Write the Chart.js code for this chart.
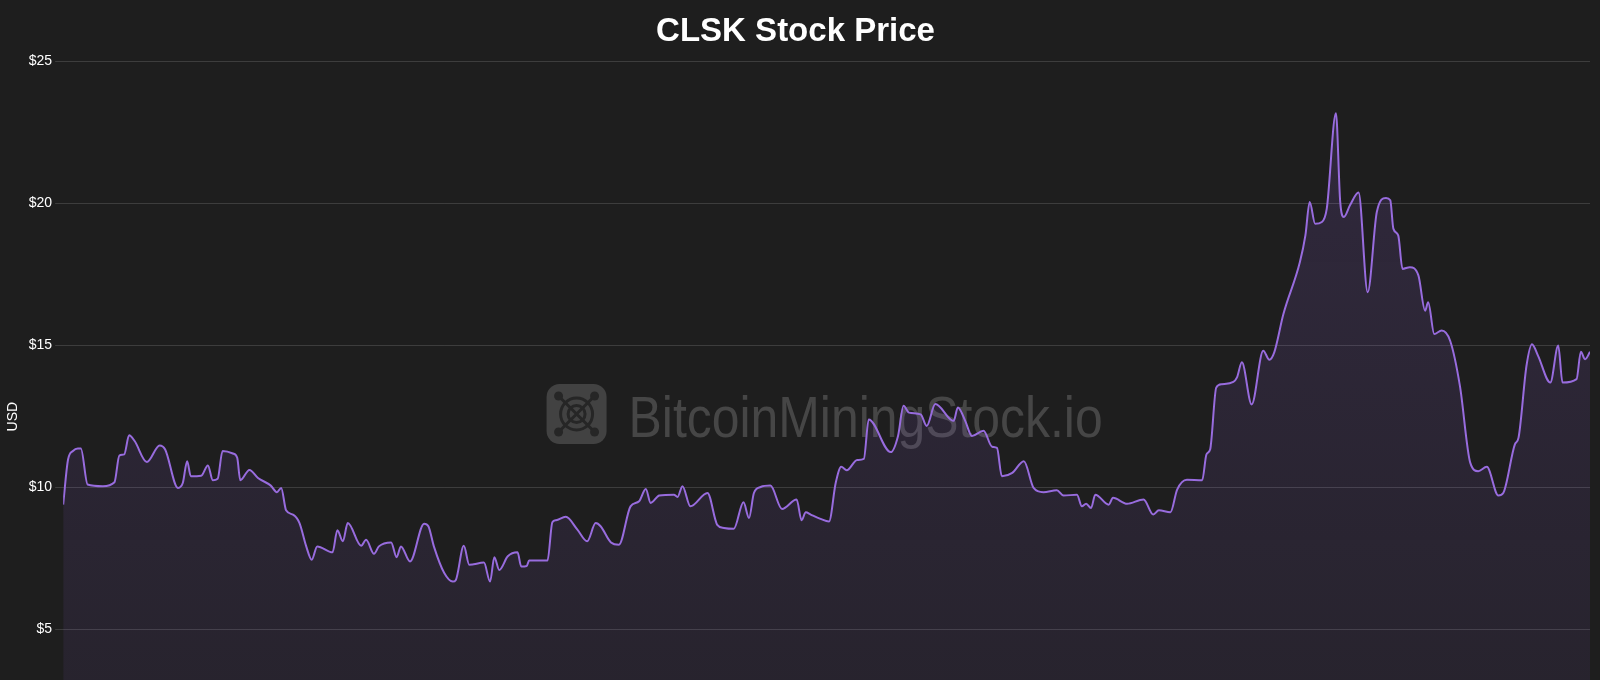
<!DOCTYPE html>
<html>
<head>
<meta charset="utf-8">
<script src="https://cdn.jsdelivr.net/npm/chart.js@4.4.1/dist/chart.umd.min.js"></script>
<style>
  html, body { margin: 0; padding: 0; background: #1e1e1e; overflow: hidden; }
  #wrap { position: absolute; left: 0; top: 0; width: 1600px; height: 783px; }
</style>
</head>
<body>
<div id="wrap"><canvas id="price-chart"></canvas></div>
<script>
// trading day index (one year) and closing price in USD
const days = [0, 0.8, 1.6, 2.4, 2.9, 4.0, 6.5, 8.4, 9.2, 10.0, 10.8, 11.7, 13.7, 15.8, 16.7, 18.8, 19.6, 20.3, 20.9, 22.6,
  23.7, 24.5, 25.3, 26.1, 27.8, 28.5, 29.0, 30.5, 31.9, 34.0, 35.0, 35.7, 36.5, 37.7, 38.7, 39.8, 40.7, 41.6, 44.1, 44.9,
  45.8, 46.6, 48.8, 49.6, 50.9, 51.7, 53.7, 54.6, 55.3, 56.8, 59.1, 59.8, 60.7, 62.4, 63.8, 64.3, 65.6, 66.5, 68.9, 69.9,
  70.6, 71.4, 72.8, 74.4, 75.0, 75.9, 76.3, 79.3, 80.1, 80.7, 82.3, 84.2, 85.8, 87.2, 88.0, 89.7, 91.0, 92.9, 94.3, 95.4,
  96.2, 97.6, 100.0, 100.6, 101.4, 102.7, 105.5, 107.1, 108.2, 109.8, 111.4, 112.3, 113.1, 114.2, 115.8, 117.7, 120.1, 120.9, 121.6, 122.4,
  124.0, 125.4, 126.5, 127.4, 128.3, 130.0, 131.1, 131.9, 135.5, 136.7, 137.6, 138.5, 140.4, 141.4, 142.8, 145.3, 145.8, 146.5, 147.7, 148.8,
  150.7, 152.1, 152.9, 153.7, 155.4, 157.3, 158.9, 160.5, 162.7, 163.8, 166.0, 166.8, 167.5, 168.3, 169.0, 171.2, 171.9, 174.2, 176.9, 178.5,
  179.4, 181.3, 182.4, 184.0, 186.5, 187.2, 187.8, 188.8, 189.7, 191.6, 192.2, 193.0, 194.6, 196.5, 197.5, 198.3, 199.8, 202.5, 203.4, 204.1,
  205.0, 206.1, 206.9, 208.4, 209.1, 209.7, 210.7, 212.1, 213.6, 215.1, 216.6, 217.3, 217.8, 218.6, 219.3, 220.5, 221.9, 223.0, 223.5, 224.5,
  225.7, 227.1, 228.7, 230.4, 231.7, 233.1, 235.0, 235.8, 237.7, 238.3, 239.6, 240.5, 241.5, 243.5, 244.8, 245.5, 247.8, 248.5, 249.2, 250];

const prices = [9.4, 10.99, 11.29, 11.38, 11.38, 10.11, 10.05, 10.19, 11.13, 11.17, 11.84, 11.64, 10.9, 11.48, 11.34, 9.99, 10.17, 10.93, 10.4, 10.42,
  10.78, 10.26, 10.31, 11.29, 11.2, 11.05, 10.26, 10.62, 10.34, 10.07, 9.84, 9.99, 9.2, 9.04, 8.75, 7.93, 7.46, 7.93, 7.72, 8.5,
  8.11, 8.75, 7.95, 8.16, 7.67, 7.93, 8.07, 7.55, 7.93, 7.4, 8.73, 8.64, 7.93, 6.99, 6.69, 6.75, 7.95, 7.28, 7.36, 6.69,
  7.55, 7.1, 7.58, 7.72, 7.22, 7.24, 7.43, 7.43, 8.78, 8.85, 8.97, 8.52, 8.11, 8.75, 8.64, 8.07, 7.99, 9.34, 9.52, 9.95,
  9.46, 9.72, 9.75, 9.67, 10.05, 9.34, 9.81, 8.69, 8.58, 8.55, 9.48, 8.93, 9.81, 10.02, 10.07, 9.25, 9.58, 8.85, 9.13, 9.05,
  8.9, 8.81, 10.17, 10.73, 10.61, 10.97, 11.01, 12.4, 11.25, 11.82, 12.88, 12.64, 12.58, 12.17, 12.94, 12.4, 12.35, 12.82, 12.35, 11.82,
  12.0, 11.44, 11.4, 10.4, 10.52, 10.93, 9.99, 9.84, 9.91, 9.72, 9.75, 9.34, 9.43, 9.28, 9.75, 9.4, 9.64, 9.43, 9.58, 9.05,
  9.2, 9.13, 9.93, 10.28, 10.26, 11.17, 11.34, 13.52, 13.64, 13.72, 13.88, 14.41, 12.93, 14.82, 14.5, 14.76, 16.11, 17.94, 18.88, 20.06,
  19.29, 19.35, 19.82, 23.18, 20.06, 19.53, 19.94, 20.39, 16.88, 19.71, 20.2, 20.12, 19.12, 18.88, 17.7, 17.76, 17.47, 16.23, 16.53, 15.41,
  15.53, 15.17, 13.58, 10.87, 10.58, 10.73, 9.72, 9.81, 11.52, 11.76, 14.29, 15.05, 14.64, 13.7, 15.0, 13.7, 13.82, 14.78, 14.52, 14.78];

const yTicks = [0, 5, 10, 15, 20, 25];

// watermark drawn behind the line
const watermark = {
  id: 'watermark',
  beforeDatasetsDraw(chart) {
    const { ctx, chartArea } = chart;
    const lx = (chartArea.left + chartArea.right) / 2 - 280;
    const ly = 384;
    const s = 60;
    ctx.save();
    // logo box
    ctx.fillStyle = '#424242';
    ctx.beginPath();
    ctx.roundRect(lx, ly, s, s, 13);
    ctx.fill();
    ctx.strokeStyle = '#262626';
    ctx.fillStyle = '#262626';
    ctx.lineWidth = 3;
    const mx = lx + s / 2;
    const my = ly + s / 2;
    ctx.beginPath();
    ctx.moveTo(lx + 12, ly + 12); ctx.lineTo(lx + s - 12, ly + s - 12);
    ctx.moveTo(lx + s - 12, ly + 12); ctx.lineTo(lx + 12, ly + s - 12);
    ctx.stroke();
    [[12, 12], [s - 12, 12], [12, s - 12], [s - 12, s - 12]].forEach(([px, py]) => {
      ctx.beginPath();
      ctx.arc(lx + px, ly + py, 4.5, 0, Math.PI * 2);
      ctx.fill();
    });
    ctx.beginPath();
    ctx.arc(mx, my, 16, 0, Math.PI * 2);
    ctx.stroke();
    ctx.beginPath();
    ctx.arc(mx, my, 8.5, 0, Math.PI * 2);
    ctx.stroke();
    // text
    ctx.fillStyle = '#464646';
    ctx.font = '58px "Liberation Sans", Arial, sans-serif';
    ctx.textBaseline = 'alphabetic';
    ctx.translate(lx + 82, 437);
    ctx.scale(0.86, 1);
    ctx.fillText('BitcoinMiningStock.io', 0, 0);
    ctx.restore();
  },
};

const ctx = document.getElementById('price-chart');
const priceChart = new Chart(ctx, {
  type: 'line',
  data: {
    datasets: [{
      label: 'CLSK',
      data: days.map((d, i) => ({ x: d, y: prices[i] })),
      borderColor: 'rgb(152, 108, 222)',
      borderWidth: 2,
      pointRadius: 0,
      cubicInterpolationMode: 'monotone',
      fill: 'origin',
      backgroundColor(context) {
        const { chart } = context;
        const area = chart.chartArea;
        if (!area) return 'rgba(150, 100, 230, 0.12)';
        const g = chart.ctx.createLinearGradient(0, area.top, 0, area.bottom);
        g.addColorStop(0, 'rgba(150, 100, 230, 0.16)');
        g.addColorStop(1, 'rgba(150, 100, 230, 0.07)');
        return g;
      },
    }],
  },
  options: {
    responsive: true,
    maintainAspectRatio: false,
    animation: false,
    layout: {
      padding: { left: 1, right: 10, top: 0, bottom: 2 },
    },
    plugins: {
      legend: { display: false },
      tooltip: { enabled: false },
      title: {
        display: true,
        text: 'CLSK Stock Price',
        color: '#ffffff',
        font: { size: 33, weight: 'bold', family: '"Liberation Sans", Arial, sans-serif' },
        padding: { top: 12, bottom: 10 },
      },
    },
    scales: {
      x: {
        type: 'linear',
        min: 0,
        max: 250,
        display: false,
      },
      y: {
        min: 0,
        max: 25,
        afterBuildTicks(scale) {
          scale.ticks = yTicks.map((v) => ({ value: v }));
        },
        border: { display: false },
        grid: {
          color: 'rgba(255, 255, 255, 0.14)',
          tickLength: 8,
        },
        ticks: {
          color: '#ffffff',
          padding: 3,
          font: { size: 14, family: '"Liberation Sans", Arial, sans-serif' },
          callback: (v) => '$' + v,
        },
        title: {
          display: true,
          text: 'USD',
          color: '#ffffff',
          font: { size: 14, family: '"Liberation Sans", Arial, sans-serif' },
        },
      },
    },
  },
  plugins: [watermark],
});
</script>
</body>
</html>
